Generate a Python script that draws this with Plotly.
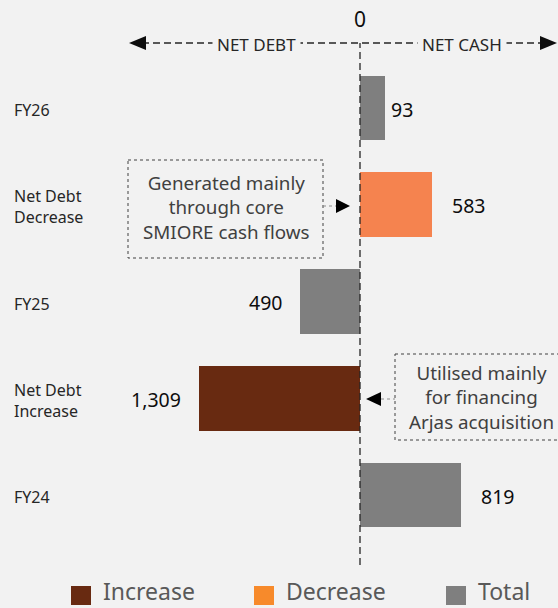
import plotly.graph_objects as go

# data (bottom to top)
categories = ["FY24", "Net Debt<br>Increase", "FY25", "Net Debt<br>Decrease", "FY26"]
values = [819, -1309, -490, 583, 93]
bar_lengths = [819, -1309, -490, 583, 205]   # FY26 bar drawn wider than its value in the source
labels = ["819", "1,309", "490", "583", "93"]
kinds = ["Total", "Increase", "Total", "Decrease", "Total"]

colors = {"Increase": "#682A11", "Decrease": "#F5834F", "Total": "#7F7F7F"}
legend_colors = {"Increase": "#682A11", "Decrease": "#F78A2B", "Total": "#7F7F7F"}

W, H = 558, 608
FONT = "Noto Sans"
BG = "#F2F2F2"


def px(x):
    return x / W


def py(y):
    return 1 - y / H


fig = go.Figure()
fig.add_trace(go.Bar(
    y=categories, x=bar_lengths, orientation="h",
    marker=dict(color=[colors[k] for k in kinds], line=dict(width=0)),
    width=0.67, showlegend=False, hoverinfo="skip",
))

# scale: zero at x=360px, 819 -> 461px
scale = (461 - 360) / 819
x_lo = -360 / scale
x_hi = (W - 360) / scale
unit = 96.75
y_hi = 4 + 108 / unit
y_lo = -(H - 495) / unit

shapes = []
annos = []


def note(x, y, text, size, color, xanchor="center", xref="paper", yref="paper", **kw):
    annos.append(dict(x=x, y=y, xref=xref, yref=yref, text=text, showarrow=False,
                      xanchor=xanchor, yanchor="middle",
                      font=dict(size=size, color=color, family=FONT), **kw))


# value labels
for c, v, lab in zip(categories, values, labels):
    note(v, c, lab, 19.5, "#0D0D0D", xanchor="left" if v > 0 else "right",
         xref="x", yref="y", xshift=18 if v > 0 else -16, yshift=-1)

# category labels (left aligned)
for c in categories:
    note(px(12), c, c, 16, "#262626", xanchor="left", yref="y", align="left", yshift=-2)

# zero line
shapes.append(dict(type="line", xref="x", yref="paper", x0=0, x1=0, y0=py(565), y1=py(43),
                   line=dict(color="#262626", width=1.3, dash="7px,4px")))
note(0, py(19), "0", 21, "#0D0D0D", xref="x")

# net debt / net cash arrow
shapes.append(dict(type="line", xref="paper", yref="paper", x0=px(142), x1=px(542),
                   y0=py(43), y1=py(43), line=dict(color="#262626", width=1.3, dash="7px,4px")))
shapes.append(dict(type="path", xref="paper", yref="paper", fillcolor="#0D0D0D", line=dict(width=0),
                   path=f"M {px(129)},{py(43)} L {px(146)},{py(36)} L {px(146)},{py(50)} Z"))
shapes.append(dict(type="path", xref="paper", yref="paper", fillcolor="#0D0D0D", line=dict(width=0),
                   path=f"M {px(557)},{py(43)} L {px(540)},{py(36)} L {px(540)},{py(50)} Z"))
for t, cx in [("NET DEBT", 256), ("NET CASH", 462)]:
    note(px(cx), py(44), t, 17, "#262626", bgcolor=BG, borderpad=4)

# callout 1
shapes.append(dict(type="rect", xref="paper", yref="paper", x0=px(128), x1=px(323), y0=py(160), y1=py(258),
                   line=dict(color="#404040", width=1, dash="dot")))
shapes.append(dict(type="line", xref="paper", yref="paper", x0=px(323), x1=px(336), y0=py(206), y1=py(206),
                   line=dict(color="#8C8C8C", width=1, dash="dot")))
shapes.append(dict(type="path", xref="paper", yref="paper", fillcolor="#000000", line=dict(width=0),
                   path=f"M {px(350)},{py(206)} L {px(336)},{py(199)} L {px(336)},{py(213)} Z"))
note(px(226), py(207), "Generated mainly<br>through core<br>SMIORE cash flows", 18.8, "#404040")

# callout 2
shapes.append(dict(type="rect", xref="paper", yref="paper", x0=px(395), x1=px(562), y0=py(354), y1=py(440),
                   line=dict(color="#404040", width=1, dash="dot")))
shapes.append(dict(type="line", xref="paper", yref="paper", x0=px(381), x1=px(395), y0=py(399), y1=py(399),
                   line=dict(color="#8C8C8C", width=1, dash="dot")))
shapes.append(dict(type="path", xref="paper", yref="paper", fillcolor="#000000", line=dict(width=0),
                   path=f"M {px(366)},{py(399)} L {px(381)},{py(392)} L {px(381)},{py(406)} Z"))
note(px(481), py(397), "Utilised mainly<br>for financing<br>Arjas acquisition", 18.8, "#404040")

# legend
for name, sx, tx in [("Increase", 71, 101), ("Decrease", 254, 284), ("Total", 446, 476)]:
    shapes.append(dict(type="rect", xref="paper", yref="paper", x0=px(sx), x1=px(sx + 20),
                       y0=py(586), y1=py(605), fillcolor=legend_colors[name], line=dict(width=0)))
    note(px(tx), py(591), name, 23, "#595959", xanchor="left")

fig.update_layout(
    width=W, height=H,
    margin=dict(l=0, r=0, t=0, b=0),
    paper_bgcolor=BG, plot_bgcolor=BG,
    xaxis=dict(range=[x_lo, x_hi], visible=False, fixedrange=True),
    yaxis=dict(range=[y_lo, y_hi], visible=False, categoryorder="array", categoryarray=categories),
    shapes=shapes, annotations=annos,
    bargap=0,
)

fig.write_html("out.html", config={"displayModeBar": False},
               post_script="document.body.style.margin='0';")
